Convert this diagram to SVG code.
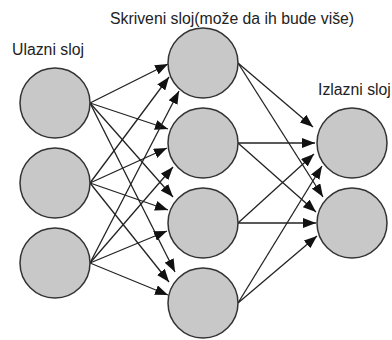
<svg xmlns="http://www.w3.org/2000/svg" width="392" height="340" viewBox="0 0 392 340">
<style>
.n{fill:#c8c8c8;stroke:#333;stroke-width:1.5}
.c line{stroke:#222;stroke-width:1.3;marker-end:url(#ah)}
.t{font-family:"Liberation Sans",Arial,sans-serif;font-size:15.8px;fill:#222}
</style>
<defs>
<marker id="ah" markerUnits="userSpaceOnUse" markerWidth="13" markerHeight="10" refX="13" refY="5" orient="auto">
<path d="M0,0 L13,5 L0,10 z" fill="#111"/>
</marker>
</defs>
<rect width="392" height="340" fill="#fff"/>
<text class="t" x="110" y="24">Skriveni sloj(može da ih bude više)</text>
<text class="t" x="12" y="55">Ulazni sloj</text>
<text class="t" x="318" y="95">Izlazni sloj</text>
<g class="c" id="connectors">
<line x1="90" y1="103" x2="168" y2="64"/>
<line x1="90" y1="103" x2="168" y2="129"/>
<line x1="90" y1="103" x2="173" y2="197"/>
<line x1="90" y1="103" x2="175" y2="272"/>
<line x1="90" y1="183" x2="169" y2="77"/>
<line x1="90" y1="183" x2="167" y2="148"/>
<line x1="90" y1="183" x2="168" y2="210"/>
<line x1="90" y1="183" x2="169" y2="282"/>
<line x1="90" y1="263" x2="179" y2="91"/>
<line x1="90" y1="263" x2="173" y2="167"/>
<line x1="90" y1="263" x2="167" y2="231"/>
<line x1="90" y1="263" x2="168" y2="295"/>
<line x1="238" y1="63" x2="313" y2="127"/>
<line x1="238" y1="63" x2="323" y2="197"/>
<line x1="238" y1="143" x2="315" y2="143"/>
<line x1="238" y1="143" x2="316" y2="212"/>
<line x1="238" y1="223" x2="314" y2="154"/>
<line x1="238" y1="223" x2="316" y2="223"/>
<line x1="238" y1="303" x2="322" y2="166"/>
<line x1="238" y1="303" x2="317" y2="236"/>
</g>
<g id="in1"><circle class="n" cx="55" cy="103" r="35"/></g>
<g id="in2"><circle class="n" cx="55" cy="183" r="35"/></g>
<g id="in3"><circle class="n" cx="55" cy="263" r="35"/></g>
<g id="h1"><circle class="n" cx="203" cy="63" r="35"/></g>
<g id="h2"><circle class="n" cx="203" cy="143" r="35"/></g>
<g id="h3"><circle class="n" cx="203" cy="223" r="35"/></g>
<g id="h4"><circle class="n" cx="203" cy="303" r="35"/></g>
<g id="o1"><circle class="n" cx="352" cy="143" r="35"/></g>
<g id="o2"><circle class="n" cx="352" cy="223" r="35"/></g>
</svg>
